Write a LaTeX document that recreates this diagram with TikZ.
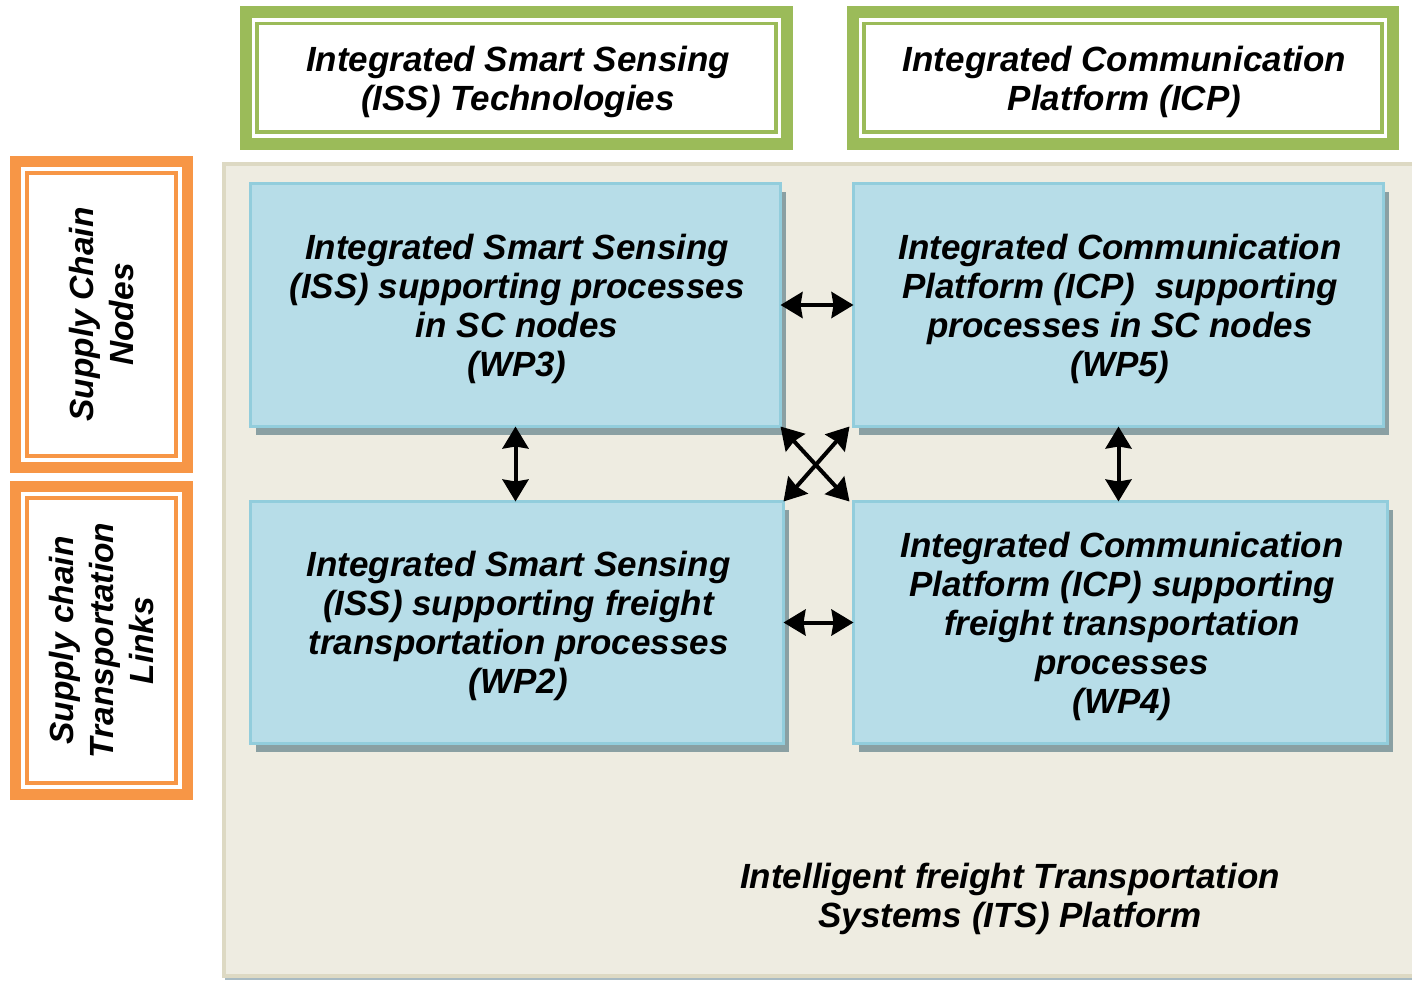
\documentclass[tikz,border=0pt]{standalone}
\usepackage{fontspec}
\setmainfont{Liberation Sans}
\usetikzlibrary{arrows.meta,shadows}
\definecolor{ogreen}{HTML}{9BBB59}
\definecolor{oorange}{HTML}{F79646}
\definecolor{bluefill}{HTML}{B7DDE8}
\definecolor{blueline}{HTML}{92CDDC}
\definecolor{shadowc}{HTML}{8AA0A3}
\definecolor{bgfill}{HTML}{EEECE1}
\definecolor{bgline}{HTML}{DDD9C3}
\definecolor{bgshadow}{HTML}{A8BAC2}
\tikzset{
  lbl/.style={font=\fontsize{35}{39}\selectfont\bfseries\itshape, align=center, text=black},
  vlbl/.style={font=\fontsize{33.5}{40}\selectfont\bfseries\itshape, align=center, text=black, rotate=90},
  wpbox/.style={draw=blueline, line width=3pt, fill=bluefill, outer sep=0pt, inner sep=0pt,
    drop shadow={shadow xshift=5pt, shadow yshift=-8pt, fill=shadowc, opacity=1}},
  gbox/.style={draw=ogreen, line width=12pt, fill=white, outer sep=0pt, inner sep=0pt},
  obox/.style={draw=oorange, line width=11pt, fill=white, outer sep=0pt, inner sep=0pt},
  gthin/.style={draw=ogreen, line width=3.5pt},
  othin/.style={draw=oorange, line width=3.5pt},
  darrow/.style={line width=4pt, {Stealth[length=22pt,width=26pt,inset=2pt]}-{Stealth[length=22pt,width=26pt,inset=2pt]}}
}
\begin{document}
\begin{tikzpicture}[x=1pt,y=-1pt]
\useasboundingbox (0,0) rectangle (1412,980);
% background platform
\fill[bgshadow] (225,976) rectangle (1416,980);
\draw[bgline, line width=4pt, fill=bgfill] (224,164) rectangle (1420,976);
\node[lbl] (its) at (1010,898.5) {Intelligent freight Transportation\\Systems (ITS) Platform};
% top green boxes
\node[gbox, minimum width=541pt, minimum height=132pt] (iss) at (516.5,78) {};
\draw[gthin] ([xshift=11pt,yshift=-11.5pt]iss.north west) rectangle ([xshift=-11pt,yshift=12pt]iss.south east);
\node[lbl] (isst) at ([xshift=1.5pt,yshift=-3.5pt]iss.center) {Integrated Smart Sensing\\(ISS) Technologies};
\node[gbox, minimum width=540pt, minimum height=132pt] (icp) at (1123,78) {};
\draw[gthin] ([xshift=11pt,yshift=-11.5pt]icp.north west) rectangle ([xshift=-11pt,yshift=12pt]icp.south east);
\node[lbl] (icpt) at ([xshift=1.5pt,yshift=-3.5pt]icp.center) {Integrated Communication\\Platform (ICP)};
% left orange boxes
\node[obox, minimum width=172pt, minimum height=306pt] (scn) at (101.5,314.5) {};
\draw[othin] ([xshift=11.5pt,yshift=-11.5pt]scn.north west) rectangle ([xshift=-11.5pt,yshift=11.5pt]scn.south east);
\node[vlbl] (scnt) at (scn.center) {Supply Chain\\Nodes};
\node[obox, minimum width=172pt, minimum height=308pt] (sct) at (101.5,640.5) {};
\draw[othin] ([xshift=11.5pt,yshift=-11.5pt]sct.north west) rectangle ([xshift=-11.5pt,yshift=11.5pt]sct.south east);
\node[vlbl] (sctt) at (sct.center) {Supply chain\\Transportation\\Links};
% work package boxes
\node[wpbox, minimum width=530pt, minimum height=243pt] (wp3) at (515.5,305) {};
\node[lbl] (wp3t) at ([xshift=1.5pt,yshift=-3.5pt]wp3.center) {Integrated Smart Sensing\\(ISS) supporting processes\\in SC nodes\\(WP3)};
\node[wpbox, minimum width=530pt, minimum height=243pt] (wp5) at (1118.5,305) {};
\node[lbl] (wp5t) at ([xshift=1.5pt,yshift=-3.5pt]wp5.center) {Integrated Communication\\Platform (ICP)\ \ supporting\\processes in SC nodes\\(WP5)};
\node[wpbox, minimum width=533pt, minimum height=242pt] (wp2) at (517,622.5) {};
\node[lbl] (wp2t) at ([xshift=1.5pt,yshift=-3.5pt]wp2.center) {Integrated Smart Sensing\\(ISS) supporting freight\\transportation processes\\(WP2)};
\node[wpbox, minimum width=534pt, minimum height=242pt] (wp4) at (1120.5,622.5) {};
\node[lbl] (wp4t) at ([xshift=1.5pt,yshift=-3.5pt]wp4.center) {Integrated Communication\\Platform (ICP) supporting\\freight transportation\\processes\\(WP4)};
% connectors
\draw[darrow] (wp3.east) -- (wp5.west);
\draw[darrow] (wp2.east) -- (wp4.west);
\draw[darrow] (wp3.south) -- (wp3.south |- wp2.north);
\draw[darrow] (wp5.south) -- (wp5.south |- wp4.north);
\draw[darrow] (wp3.south east) -- ([xshift=-4pt]wp4.north west);
\draw[darrow] ([xshift=-4pt]wp5.south west) -- (wp2.north east);
\end{tikzpicture}
\end{document}
